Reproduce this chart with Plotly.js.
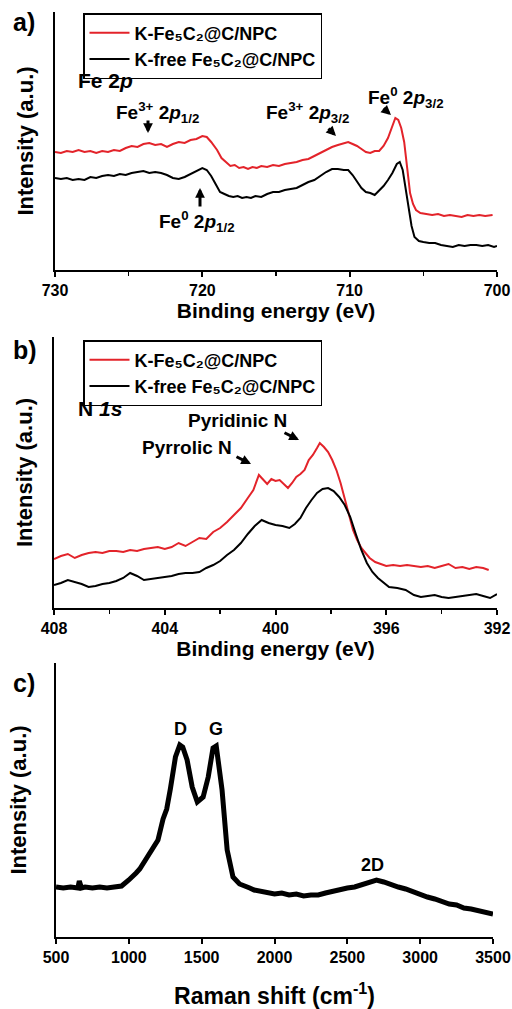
<!DOCTYPE html>
<html>
<head>
<meta charset="utf-8">
<script src="https://cdn.plot.ly/plotly-3.0.1.min.js"></script>
<style>html,body{margin:0;padding:0;background:#fff;}#chart{width:512px;height:1009px;}</style>
</head>
<body>
<div id="chart"></div>
<script>
// ---- Panel a: Fe 2p XPS ----
const feX_red = [730,729.6,729.2,728.8,728.4,728.0,727.6,727.2,726.8,726.4,726.0,725.6,725.2,724.8,724.4,724.0,723.6,723.2,722.8,722.4,722.0,721.6,721.2,720.8,720.4,720.0,719.7,719.4,719.0,718.7,718.4,718.1,717.8,717.5,717.2,716.9,716.6,716.3,716.0,715.6,715.2,714.8,714.4,714.0,713.6,713.2,712.8,712.4,712.0,711.6,711.2,710.8,710.4,710.1,709.8,709.5,709.2,708.9,708.6,708.3,708.0,707.7,707.4,707.1,706.9,706.7,706.5,706.3,706.1,705.9,705.7,705.5,705.2,704.8,704.4,704.0,703.6,703.2,702.8,702.4,702.0,701.6,701.2,700.8,700.3];
const feY_red = [118,117,119,118,120,118,119,117,119,118,120,119,122,124,123,126,127,125,126,123,126,128,127,130,131,134,133,128,120,112,108,104,105,102,103,101,103,102,104,103,105,104,106,107,108,110,111,114,117,120,123,125,127,128,126,124,121,118,117,119,119,124,132,143,152,150,142,128,100,77,66,60,57,56,55,56,54,55,54,53,55,54,55,54,55];
const feX_blk = [730,729.6,729.2,728.8,728.4,728.0,727.6,727.2,726.8,726.4,726.0,725.6,725.2,724.8,724.4,724.0,723.6,723.2,722.8,722.4,722.0,721.6,721.2,720.8,720.4,720.0,719.7,719.4,719.1,718.8,718.5,718.2,717.9,717.6,717.3,717.0,716.7,716.4,716.0,715.6,715.2,714.8,714.4,714.0,713.6,713.2,712.8,712.4,712.0,711.6,711.2,710.8,710.4,710.1,709.8,709.5,709.2,708.9,708.6,708.3,708.0,707.7,707.4,707.1,706.8,706.6,706.4,706.2,706.0,705.8,705.6,705.3,705.0,704.6,704.2,703.8,703.4,703.0,702.6,702.2,701.8,701.4,701.0,700.6,700.2,700];
const feY_blk = [92,91,92,90,91,90,93,92,94,95,94,96,95,97,98,99,97,98,97,95,92,91,93,96,99,102,100,94,86,78,76,74,73,74,72,73,72,74,73,76,78,78,80,81,82,85,88,90,94,98,101,101,100,100,95,88,82,78,77,75,79,84,90,97,106,108,100,82,62,44,33,29,28,27,27,25,24,23,25,24,25,25,24,25,23,24];

// ---- Panel b: N 1s XPS ----
const nX_red = [408,407.75,407.5,407.25,407.0,406.75,406.5,406.25,406.0,405.75,405.5,405.25,405.0,404.75,404.5,404.25,404.0,403.75,403.5,403.25,403.0,402.75,402.5,402.25,402.0,401.75,401.5,401.25,401.0,400.8,400.6,400.45,400.3,400.15,400.0,399.85,399.7,399.55,399.4,399.25,399.1,398.95,398.8,398.65,398.5,398.4,398.25,398.1,397.95,397.8,397.65,397.5,397.35,397.2,397.05,396.9,396.75,396.6,396.4,396.2,396.0,395.75,395.5,395.25,395.0,394.75,394.5,394.25,394.0,393.75,393.5,393.25,393.0,392.75,392.5,392.3];
const nY_red = [49,52,54,50,53,55,56,55,57,57,56,58,57,59,60,61,59,61,65,62,66,70,69,76,80,86,93,100,110,118,133,128,124,129,127,128,124,120,125,131,134,138,148,153,160,165,161,156,148,138,125,110,95,78,68,60,55,50,46,44,42,43,42,43,42,41,42,40,42,44,40,41,39,41,40,38];
const nX_blk = [408,407.75,407.5,407.25,407.0,406.75,406.5,406.25,406.0,405.75,405.5,405.25,405.0,404.75,404.5,404.25,404.0,403.75,403.5,403.25,403.0,402.75,402.5,402.25,402.0,401.75,401.5,401.25,401.0,400.75,400.5,400.25,400.0,399.75,399.5,399.3,399.1,398.9,398.7,398.5,398.3,398.1,397.9,397.7,397.5,397.3,397.1,396.9,396.7,396.5,396.3,396.1,395.9,395.6,395.3,395.0,394.75,394.5,394.25,394.0,393.75,393.5,393.25,393.0,392.75,392.5,392.25,392.0];
const nY_blk = [23,25,28,26,24,21,22,24,25,27,30,35,32,28,29,30,31,32,34,35,35,36,40,43,47,53,58,65,74,82,88,85,83,82,80,84,90,100,108,115,119,120,117,111,103,91,74,58,45,36,30,25,21,20,18,13,11,12,13,11,10,11,12,13,14,12,10,14];

// ---- Panel c: Raman ----
const ramX = [500,550,600,650,660,675,700,750,800,850,900,950,1000,1025,1050,1075,1100,1125,1150,1175,1200,1235,1260,1285,1320,1350,1370,1400,1435,1470,1510,1545,1578,1600,1640,1675,1715,1760,1800,1830,1860,1900,1950,2000,2050,2100,2150,2200,2250,2300,2350,2400,2450,2500,2550,2600,2650,2700,2750,2800,2850,2900,2950,3000,3050,3100,3150,3200,3250,3300,3350,3400,3450,3500];
const ramY = [50,49,50,49,56,49,50,49,50,49,50,51,57,60,64,68,74,79,84,90,97,118,128,148,180,192,190,177,150,135,140,160,189,191,147,87,60,53,50,49,47,46,44,43,44,42,43,41,42,42,44,46,48,49,50,52,54,57,55,52,50,48,45,43,40,38,35,33,32,29,28,26,25,23];

// tick labels
const feTicks = [730,720,710,700];
const nTicks = [408,404,400,396,392];
const ramTicks = [500,1000,1500,2000,2500,3000,3500];

const RED = '#e3232a';
const FONT = 'Liberation Sans, Arial, sans-serif';
const W = 512, H = 1009;
const px = x => x / W;
const py = y => 1 - y / H;

const NAME_K = 'K-Fe₅C₂@C/NPC';
const NAME_FREE = 'K-free Fe₅C₂@C/NPC';

const traces = [
  {x: feX_red, y: feY_red, type: 'scatter', mode: 'lines', name: NAME_K, line: {color: RED, width: 2}, xaxis: 'x', yaxis: 'y', legend: 'legend'},
  {x: feX_blk, y: feY_blk, type: 'scatter', mode: 'lines', name: NAME_FREE, line: {color: '#000', width: 2}, xaxis: 'x', yaxis: 'y', legend: 'legend'},
  {x: nX_red, y: nY_red, type: 'scatter', mode: 'lines', name: NAME_K, line: {color: RED, width: 2}, xaxis: 'x2', yaxis: 'y2', legend: 'legend2'},
  {x: nX_blk, y: nY_blk, type: 'scatter', mode: 'lines', name: NAME_FREE, line: {color: '#000', width: 2}, xaxis: 'x2', yaxis: 'y2', legend: 'legend2'},
  {x: ramX, y: ramY, type: 'scatter', mode: 'lines', name: 'Raman', line: {color: '#000', width: 5}, xaxis: 'x3', yaxis: 'y3', showlegend: false}
];

function xax(domain, range, ticks, minor, title, tsize) {
  return {
    domain: domain, range: range, autorange: false, anchor: null,
    tickvals: ticks, ticktext: ticks.map(String),
    tickfont: {family: FONT, size: 16, weight: 'bold', color: '#000'},
    ticks: 'outside', ticklen: 5, tickwidth: 2, tickcolor: '#000',
    minor: minor ? {dtick: minor, ticks: 'outside', ticklen: 4, tickwidth: 1.5, tickcolor: '#000'} : undefined,
    showline: true, linewidth: 2, linecolor: '#000', showgrid: false, zeroline: false,
    title: {text: title, font: {family: FONT, size: tsize, weight: 'bold', color: '#000'}, standoff: 3}
  };
}
function yax(domain, range) {
  return {
    domain: domain, range: range, autorange: false,
    showticklabels: false, ticks: '', showline: true, linewidth: 2, linecolor: '#000',
    showgrid: false, zeroline: false,
    title: {text: 'Intensity (a.u.)', font: {family: FONT, size: 22, weight: 'bold', color: '#000'}, standoff: 13}
  };
}

const xa = xax([px(55), px(497)], [730, 700], feTicks, 5, 'Binding energy (eV)', 21); xa.anchor = 'y';
const xb = xax([px(54), px(497)], [408, 392], nTicks, 2, 'Binding energy (eV)', 21); xb.anchor = 'y2';
const xc = xax([px(56), px(493)], [500, 3500], ramTicks, null, 'Raman shift (cm<sup>-1</sup>)', 23); xc.anchor = 'y3';
xc.title.standoff = 24;
const ya = yax([py(270), py(12)], [0, 258]); ya.anchor = 'x';
const yb = yax([py(608), py(337)], [0, 271]); yb.anchor = 'x2';
const yc = yax([py(937), py(663)], [0, 274]); yc.anchor = 'x3'; yc.title.standoff = 21;

function txt(text, x, y, size, xanchor) {
  return {text: text, xref: 'paper', yref: 'paper', x: px(x), y: py(y), xanchor: xanchor || 'center', yanchor: 'middle', showarrow: false,
          font: {family: FONT, size: size, weight: 'bold', color: '#000'}};
}
function arrow(tipX, tipY, tailX, tailY) {
  return {text: '', xref: 'paper', yref: 'paper', x: px(tipX), y: py(tipY), ax: tailX - tipX, ay: tailY - tipY,
          showarrow: true, arrowhead: 2, arrowsize: 0.65, arrowwidth: 3, arrowcolor: '#000'};
}

const annotations = [
  txt('a)', 24, 22, 25), txt('b)', 25, 350, 25), txt('c)', 24, 683, 25),
  txt('Fe 2<i>p</i>', 76, 80, 21, 'left'),
  txt('Fe<sup>3+</sup> 2<i>p</i><sub>1/2</sub>', 157, 112, 19),
  txt('Fe<sup>0</sup> 2<i>p</i><sub>1/2</sub>', 197, 222, 19),
  txt('Fe<sup>3+</sup> 2<i>p</i><sub>3/2</sub>', 307, 112, 19),
  txt('Fe<sup>0</sup> 2<i>p</i><sub>3/2</sub>', 406, 97, 19),
  arrow(148, 133, 148, 119), arrow(200, 188, 200, 208), arrow(336, 136, 327, 127), arrow(391, 115, 382, 107),
  txt('N <i>1s</i>', 76, 409, 21, 'left'),
  txt('Pyridinic N', 237, 420, 19),
  txt('Pyrrolic N', 187, 447, 19),
  arrow(251, 464, 235, 456), arrow(299, 440, 283, 432),
  txt('D', 180, 729, 18), txt('G', 216, 729, 18), txt('2D', 372, 865, 18)
];

const legendStyle = {
  xanchor: 'left', yanchor: 'top', bgcolor: '#fff', bordercolor: '#000', borderwidth: 1.5,
  font: {family: FONT, size: 18, weight: 'bold', color: '#000'}, itemwidth: 40, tracegroupgap: 0
};

const layout = {
  width: W, height: H, margin: {l: 0, r: 0, t: 0, b: 0}, paper_bgcolor: '#fff', plot_bgcolor: '#fff',
  font: {family: FONT, color: '#000'},
  xaxis: xa, yaxis: ya, xaxis2: xb, yaxis2: yb, xaxis3: xc, yaxis3: yc,
  legend: Object.assign({x: px(83), y: py(13)}, legendStyle),
  legend2: Object.assign({x: px(83), y: py(340)}, legendStyle),
  annotations: annotations
};

Plotly.newPlot('chart', traces, layout, {staticPlot: true, displayModeBar: false});
</script>
</body>
</html>
